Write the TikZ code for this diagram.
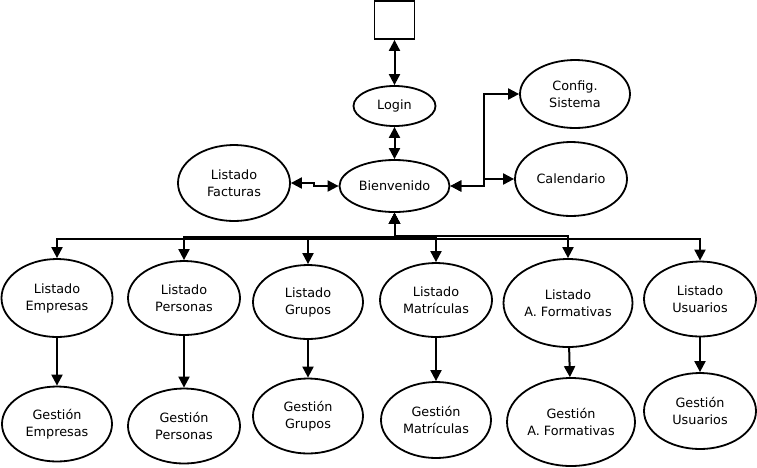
\documentclass[tikz,border=0pt]{standalone}
\usepackage{fontspec}
\setmainfont{DejaVu Sans}
\usetikzlibrary{shapes.geometric,arrows.meta}
\begin{document}
\begin{tikzpicture}[x=1pt,y=-1pt,
  ov/.style={ellipse,draw,line width=1.8pt,inner sep=0pt,align=center,
    font=\fontsize{12.8}{17}\selectfont},
  lk/.style={line width=2pt,-{Triangle[length=11pt,width=11pt]}},
  lkb/.style={line width=2pt,{Triangle[length=11pt,width=11pt]}-{Triangle[length=11pt,width=11pt]}}]
\useasboundingbox (0,0) rectangle (757,467);
\node[draw,line width=1.8pt,minimum width=40pt,minimum height=38pt,inner sep=0pt] (sq) at (394.5,20) {};
\node[ov,minimum width=82pt,minimum height=40pt] (login) at (394.5,106) {Login};
\node[ov,minimum width=110pt,minimum height=52pt] (bien) at (394.5,186) {Bienvenido};
\node[ov,minimum width=112pt,minimum height=76pt] (fact) at (234,183) {Listado\\Facturas};
\node[ov,minimum width=110pt,minimum height=68pt] (cfg) at (575,94) {Config.\\Sistema};
\node[ov,minimum width=112pt,minimum height=74pt] (cal) at (571,179) {Calendario};

\node[ov,minimum width=111pt,minimum height=78pt] (le) at (57,298) {Listado\\Empresas};
\node[ov,minimum width=112pt,minimum height=74pt] (lp) at (184,298) {Listado\\Personas};
\node[ov,minimum width=110pt,minimum height=74pt] (lg) at (308,302) {Listado\\Grupos};
\node[ov,minimum width=112pt,minimum height=74pt] (lm) at (436,300) {Listado\\Matrículas};
\node[ov,minimum width=129pt,minimum height=88pt] (la) at (568,303) {Listado\\A. Formativas};
\node[ov,minimum width=112pt,minimum height=75pt] (lu) at (700,299) {Listado\\Usuarios};

\node[ov,minimum width=110pt,minimum height=75pt] (ge) at (57,424) {Gestión\\Empresas};
\node[ov,minimum width=112pt,minimum height=75pt] (gp) at (184,426) {Gestión\\Personas};
\node[ov,minimum width=110pt,minimum height=75pt] (gg) at (308,416) {Gestión\\Grupos};
\node[ov,minimum width=110pt,minimum height=76pt] (gm) at (436,420) {Gestión\\Matrículas};
\node[ov,minimum width=128pt,minimum height=88pt] (ga) at (571,422) {Gestión\\A. Formativas};
\node[ov,minimum width=112pt,minimum height=76pt] (gu) at (700,411) {Gestión\\Usuarios};

\draw[lkb] (sq.south) -- (login.north);
\draw[lkb] (login.south) -- (bien.north);
\draw[lkb] (fact.east) -- ++(23,0) |- (bien.west);
\draw[lkb] (bien.east) -- ++(34,0) |- (cfg.west);
\draw[lkb] (bien.east) -- ++(34,0) |- (cal.west);

\draw[lkb] (bien.south) -- ++(0,26) -| (le.north);
\draw[lkb] (bien.south) -- ++(0,24) -| (lp.north);
\draw[lkb] (bien.south) -- ++(0,25) -| (lg.north);
\draw[lkb] (bien.south) -- ++(0,24) -| (lm.north);
\draw[lkb] (bien.south) -- ++(0,23) -| (la.north);
\draw[lkb] (bien.south) -- ++(0,26) -| (lu.north);

\draw[lk] (le) -- (ge);
\draw[lk] (lp) -- (gp);
\draw[lk] (lg) -- (gg);
\draw[lk] (lm) -- (gm);
\draw[lk] (la) -- (ga);
\draw[lk] (lu) -- (gu);
\end{tikzpicture}
\end{document}
